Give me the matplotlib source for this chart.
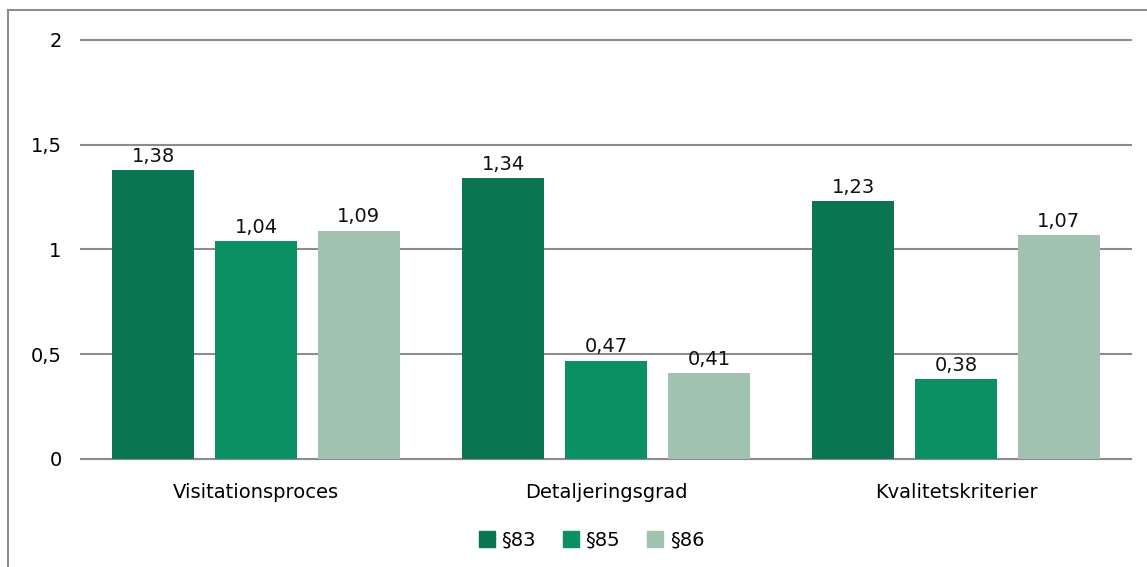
import numpy as np
import matplotlib
matplotlib.use('Agg')
import matplotlib.pyplot as plt
from matplotlib.lines import Line2D

categories = ["Visitationsproces", "Detaljeringsgrad", "Kvalitetskriterier"]
series_names = ["§83", "§85", "§86"]
s83 = [1.38, 1.34, 1.23]
s85 = [1.04, 0.47, 0.38]
s86 = [1.09, 0.41, 1.07]
yticks = [0, 0.5, 1, 1.5, 2]

COLORS = ["#0a7550", "#0b9063", "#a2c2b1"]
FS = 14

plt.rcParams['font.family'] = ['DejaVu Sans']

fig = plt.figure(figsize=(11.47, 5.67), dpi=100)
ax = fig.add_axes([0.0706, 0.1905, 0.9154, 0.739])

x = np.arange(len(categories))
width = 0.234
step = 0.294
for i, (vals, name) in enumerate(zip([s83, s85, s86], series_names)):
    pos = x + (i - 1) * step
    ax.bar(pos, vals, width=width, color=COLORS[i], label=name, zorder=3)
    for px, v in zip(pos, vals):
        ax.text(px, v + 0.02, f"{v:.2f}".replace(".", ","), ha='center', va='bottom',
                fontsize=FS, color='#111111', zorder=4)

ax.set_xlim(-0.5, 2.5)
ax.set_ylim(0, 2)
ax.set_yticks(yticks)
ax.set_yticklabels([f"{t:g}".replace(".", ",") for t in yticks], fontsize=FS)
ax.yaxis.grid(True, color='#8c8c8c', linewidth=1.5, zorder=0)
for gl in ax.get_ygridlines():
    gl.set_clip_on(False)
ax.tick_params(axis='y', length=0, pad=14)
ax.set_xticks(x)
ax.set_xticklabels(categories, fontsize=FS)
ax.tick_params(axis='x', length=0, pad=17)
for side in ['top', 'right', 'left']:
    ax.spines[side].set_visible(False)
ax.spines['bottom'].set_color('#8c8c8c')
ax.spines['bottom'].set_linewidth(1.5)

handles = [Line2D([], [], marker='s', linestyle='none', markersize=11,
                  markerfacecolor=c, markeredgecolor=c) for c in COLORS]
fig.legend(handles, series_names, loc='center', bbox_to_anchor=(0.515, 0.047),
           ncol=3, frameon=False, fontsize=FS, handletextpad=0.25, columnspacing=1.3,
           handlelength=1.0)

# outer border (left and top edges visible)
fig.add_artist(Line2D([8 / 1147, 8 / 1147], [0, 1 - 10 / 567], transform=fig.transFigure,
                      color='#8c8c8c', linewidth=1.5))
fig.add_artist(Line2D([8 / 1147, 1], [1 - 10 / 567, 1 - 10 / 567], transform=fig.transFigure,
                      color='#8c8c8c', linewidth=1.5))

fig.savefig("out.png", dpi=100)
